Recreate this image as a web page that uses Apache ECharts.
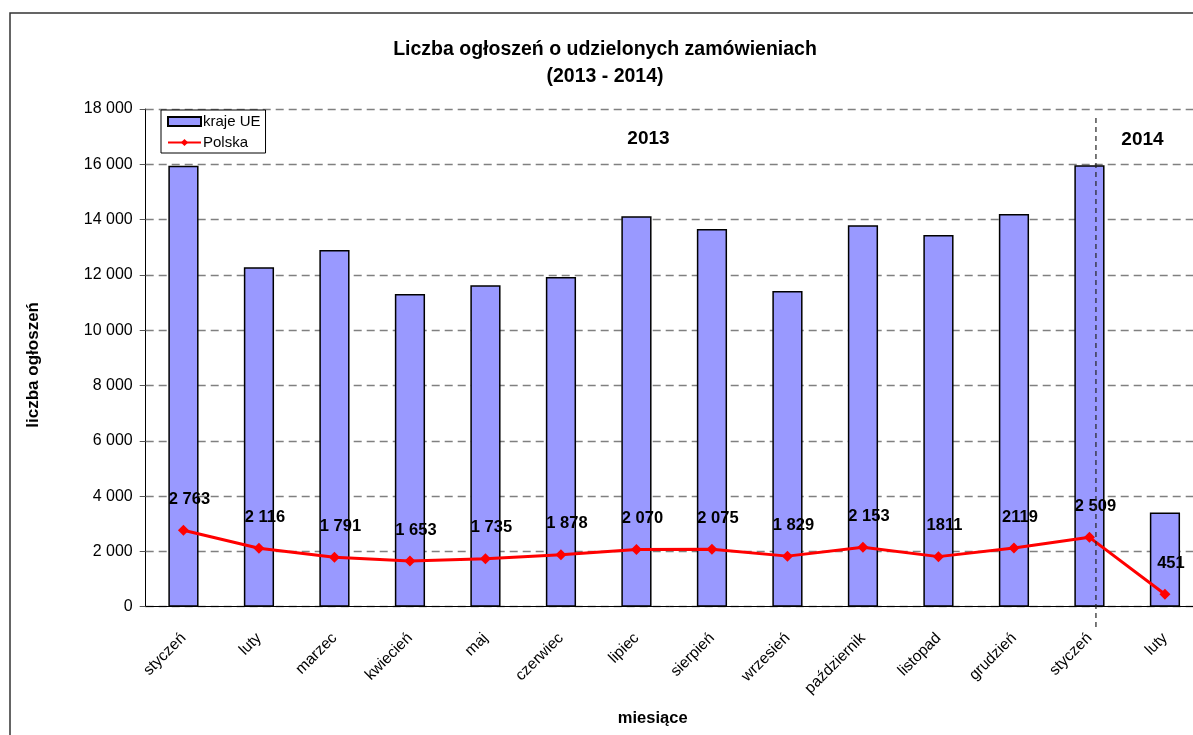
<!DOCTYPE html>
<html>
<head>
<meta charset="utf-8">
<script src="https://cdn.jsdelivr.net/npm/echarts@6/dist/echarts.min.js"></script>
<style>
  html, body { margin: 0; padding: 0; background: #fff; }
  #chart { width: 1193px; height: 735px; }
</style>
</head>
<body>
<div id="chart"></div>
<script>
// dane
const months = ['styczeń', 'luty', 'marzec', 'kwiecień', 'maj', 'czerwiec', 'lipiec',
  'sierpień', 'wrzesień', 'październik', 'listopad', 'grudzień', 'styczeń', 'luty']
const krajeUE = [15950, 12280, 12900, 11310, 11630, 11920, 14120, 13660, 11420, 13800, 13440, 14200, 15970, 3410]
const polska = [2763, 2116, 1791, 1653, 1735, 1878, 2070, 2075, 1829, 2153, 1811, 2119, 2509, 451]
const polskaLabels = ['2 763', '2 116', '1 791', '1 653', '1 735', '1 878', '2 070', '2 075',
  '1 829', '2 153', '1811', '2119', '2 509', '451']
const yTicks = [0, 2000, 4000, 6000, 8000, 10000, 12000, 14000, 16000, 18000]

const font = 'Liberation Sans, Arial, sans-serif'

const option = {
  animation: false,
  textStyle: { fontFamily: font },
  title: {
    text: 'Liczba ogłoszeń o udzielonych zamówieniach\n(2013 - 2014)',
    left: 600,
    textAlign: 'center',
    top: 31,
    textStyle: { fontSize: 19.5, fontWeight: 'bold', color: '#000', lineHeight: 27, fontFamily: font }
  },
  legend: {
    orient: 'vertical',
    left: 161,
    top: 110,
    padding: [4, 5, 3, 6],
    itemGap: 6,
    itemWidth: 33,
    itemHeight: 9,
    borderColor: '#000',
    borderWidth: 1,
    backgroundColor: '#fff',
    textStyle: { fontSize: 15, color: '#000', padding: [0, 0, 0, -3] },
    data: [{ name: 'kraje UE', icon: 'rect' }, { name: 'Polska' }]
  },
  grid: { left: 145.7, top: 109, bottom: 128.3, width: 1057, outerBoundsMode: 'none', containLabel: false },
  xAxis: {
    type: 'category',
    data: months,
    name: 'miesiące',
    nameLocation: 'middle',
    nameGap: 103,
    nameTextStyle: { fontSize: 16.5, fontWeight: 'bold', color: '#000', padding: [0, 0, 0, -43] },
    axisLine: { lineStyle: { color: '#000', width: 1 } },
    axisTick: { length: 6, lineStyle: { color: '#555' } },
    axisLabel: { rotate: 45, fontSize: 15.5, color: '#000', margin: 29 }
  },
  yAxis: {
    type: 'value',
    min: 0,
    max: 18000,
    interval: 2000,
    name: 'liczba ogłoszeń',
    nameLocation: 'middle',
    nameGap: 104,
    nameRotate: 90,
    nameTextStyle: { fontSize: 17, fontWeight: 'bold', color: '#000', padding: [0, 0, 0, -14] },
    axisLine: { show: true, lineStyle: { color: '#000', width: 1 } },
    axisTick: { show: true, length: 6, lineStyle: { color: '#555' } },
    axisLabel: {
      fontSize: 16, color: '#000', margin: 13,
      formatter: v => yTicks.includes(v) ? (v >= 1000 ? Math.floor(v / 1000) + ' ' + String(v % 1000).padStart(3, '0') : String(v)) : ''
    },
    splitLine: { lineStyle: { color: '#808080', type: [8, 5], width: 1.3 } }
  },
  series: [
    {
      name: 'kraje UE',
      type: 'bar',
      data: krajeUE,
      barWidth: '40%',
      itemStyle: { color: '#9999FF', borderColor: '#000', borderWidth: 1.5 }
    },
    {
      name: 'Polska',
      type: 'line',
      data: polska,
      symbol: 'diamond',
      symbolSize: 11,
      lineStyle: { color: '#FF0000', width: 3 },
      itemStyle: { color: '#FF0000' },
      label: {
        show: true,
        position: 'top',
        distance: 17,
        offset: [6, 0],
        fontSize: 16.5,
        fontWeight: 'bold',
        color: '#000',
        formatter: p => polskaLabels[p.dataIndex]
      },
      z: 5
    }
  ]
}

const chart = echarts.init(document.getElementById('chart'))
chart.setOption(option)

// linia podziału lat i podpisy
const xSplit = chart.convertToPixel({ xAxisIndex: 0 }, 12) + 6.5
const x2013 = chart.convertToPixel({ xAxisIndex: 0 }, 6) + 12
const x2014 = chart.convertToPixel({ xAxisIndex: 0 }, 13) - 22.5
const yTop = chart.convertToPixel({ yAxisIndex: 0 }, 18000)
const yZero = chart.convertToPixel({ yAxisIndex: 0 }, 0)

chart.setOption({
  graphic: [
    {
      type: 'rect',
      shape: { x: 10, y: 13, width: 1250, height: 800 },
      style: { fill: 'none', stroke: '#333', lineWidth: 1.5 },
      silent: true
    },
    {
      type: 'line',
      shape: { x1: xSplit, y1: yTop + 9, x2: xSplit, y2: yZero + 24 },
      style: { stroke: '#222', lineWidth: 1.2, lineDash: [5, 4] },
      z: 10
    },
    {
      type: 'text',
      x: x2013, y: 139,
      style: { text: '2013', font: 'bold 19px ' + font, fill: '#000', textAlign: 'center', textVerticalAlign: 'middle' }
    },
    {
      type: 'text',
      x: x2014, y: 140,
      style: { text: '2014', font: 'bold 19px ' + font, fill: '#000', textAlign: 'center', textVerticalAlign: 'middle' }
    }
  ]
})
</script>
</body>
</html>
